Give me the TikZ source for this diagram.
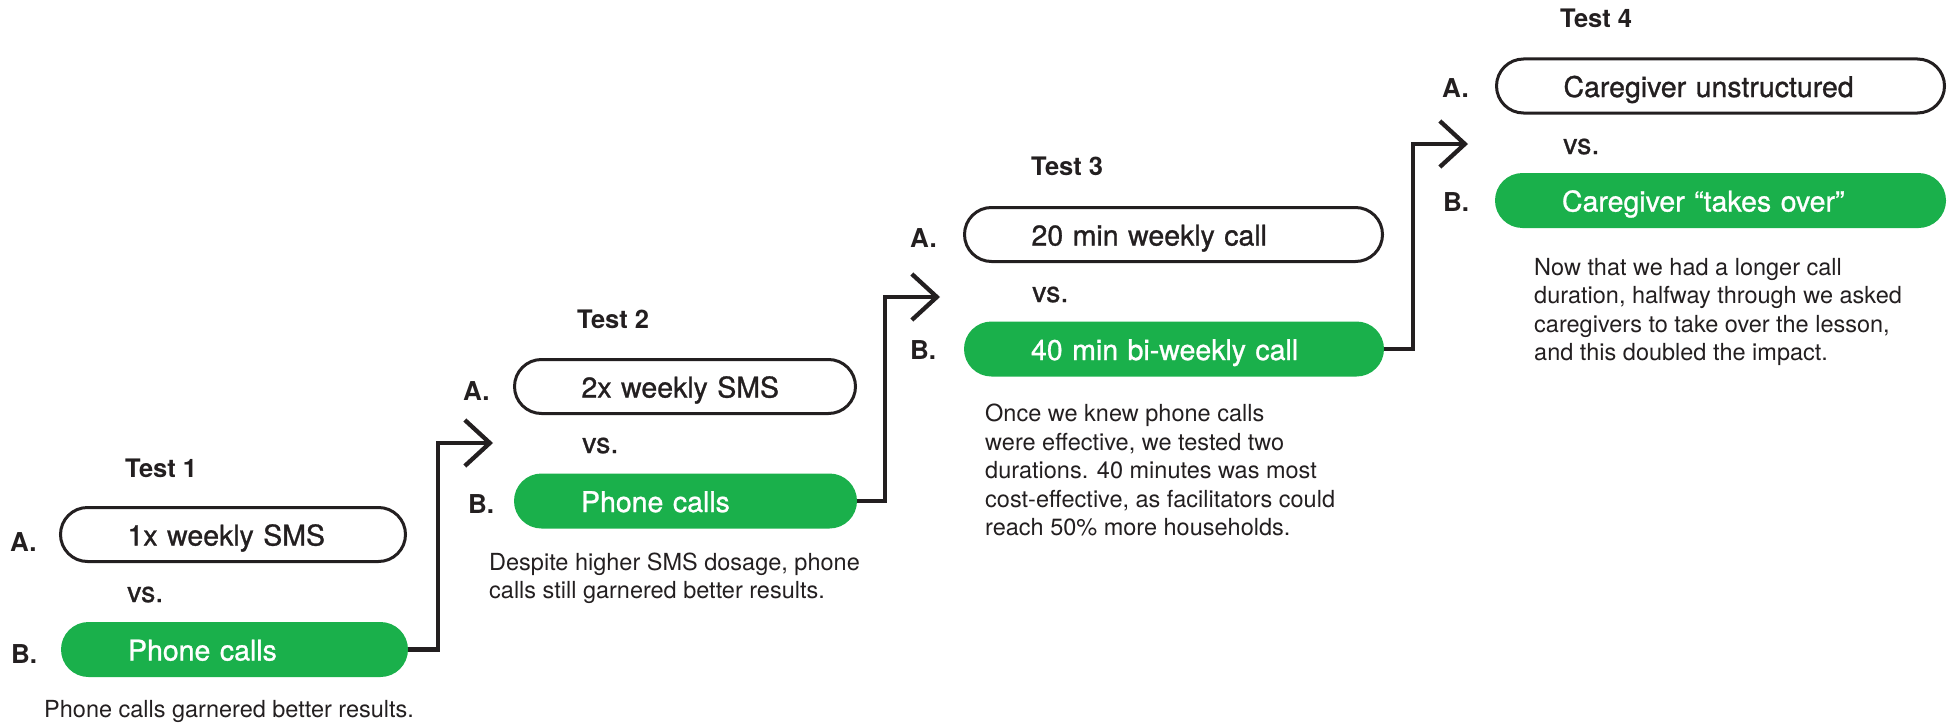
\documentclass[tikz,border=0pt]{standalone}
\usepackage{fontspec}
\setmainfont{TeX Gyre Heros}
\newfontfamily\medfam[FakeBold=1.0]{TeX Gyre Heros}
\usetikzlibrary{arrows.meta}
\definecolor{ink}{HTML}{231F20}
\definecolor{grn}{HTML}{1AB04B}
\newcommand\bxfont{\medfam\fontsize{28.5}{30}\selectfont}
\newcommand\lbfont{\bfseries\fontsize{26}{28}\selectfont}
\newcommand\tstfont{\bfseries\fontsize{25.5}{28}\selectfont}
\newcommand\cpfont{\fontsize{23.5}{28.5}\selectfont}
\newcommand\cplines[1]{\begin{tabular}[t]{@{}l@{}}#1\end{tabular}}
\begin{document}
\begin{tikzpicture}[x=1pt,y=-1pt,
  every node/.style={inner sep=0pt, text=ink},
  boxA/.style={draw=ink, line width=3pt, fill=white, rounded corners=27pt,
    minimum height=54pt, inner xsep=67pt, text height=22pt, text depth=0pt,
    align=left, font=\bxfont},
  boxB/.style={fill=grn, rounded corners=27.5pt, minimum height=55pt,
    inner xsep=67pt, text height=22pt, text depth=0pt, align=left,
    font=\bxfont, text=white},
  lbl/.style={anchor=base west, font=\lbfont},
  tst/.style={anchor=base west, font=\tstfont},
  vsl/.style={anchor=base west, font=\bxfont},
  captxt/.style={anchor=base west, font=\cpfont},
  link/.style={draw=ink, line width=4.3pt, line join=miter, line cap=butt,
    -{Straight Barb[length=25pt,width=46pt]}}
]
\useasboundingbox (0,0) rectangle (1948,725);

% ---------- Test 1 ----------
\node[tst] (T1) at (125,477) {Test 1};
\node[boxA, text width=211pt] (A1) at (233,534.5) {1x weekly SMS};
\node[lbl] (LA1) at (10,551) {A.};
\node[vsl] (V1) at (127,602) {vs.};
\node[boxB, text width=213pt] (B1) at (234.5,649.5) {Phone calls};
\node[lbl] (LB1) at (11,663) {B.};
\node[captxt] (C1) at (44,717) {Phone calls garnered better results.};

% ---------- Test 2 ----------
\node[tst] (T2) at (577,328) {Test 2};
\node[boxA, text width=207pt] (A2) at (685,386.5) {2x weekly SMS};
\node[lbl] (LA2) at (463,400) {A.};
\node[vsl] (V2) at (582,453) {vs.};
\node[boxB, text width=209pt] (B2) at (685.5,501) {Phone calls};
\node[lbl] (LB2) at (468,513) {B.};
\node[captxt] (C2) at (489,570) {\cplines{Despite higher SMS dosage, phone\\calls still garnered better results.}};

% ---------- Test 3 ----------
\node[tst] (T3) at (1031,175) {Test 3};
\node[boxA, text width=284pt] (A3) at (1173.5,234.5) {20 min weekly call};
\node[lbl] (LA3) at (910,247) {A.};
\node[vsl] (V3) at (1032,302) {vs.};
\node[boxB, text width=286pt] (B3) at (1174,349) {40 min bi-weekly call};
\node[lbl] (LB3) at (910,359) {B.};
\node[captxt] (C3) at (985,421.7) {\cplines{Once we knew phone calls\\were effective, we tested two\\durations. 40 minutes was most\\cost-effective, as facilitators could\\reach 50\% more households.}};

% ---------- Test 4 ----------
\node[tst] (T4) at (1560,28) {Test 4};
\node[boxA, text width=314pt] (A4) at (1720.5,86) {Caregiver unstructured};
\node[lbl] (LA4) at (1442,97) {A.};
\node[vsl] (V4) at (1563,154) {vs.};
\node[boxB, text width=317pt] (B4) at (1720.5,200.5) {Caregiver “takes over”};
\node[lbl] (LB4) at (1443,211) {B.};
\node[captxt] (C4) at (1534,275) {\cplines{Now that we had a longer call\\duration, halfway through we asked\\caregivers to take over the lesson,\\and this doubled the impact.}};

% ---------- connectors ----------
\coordinate (t1) at (493,443);
\coordinate (t2) at (940,297);
\coordinate (t3) at (1468,144);
\draw[link] (B1.east) -- ++(29.5,0) |- (t1);
\draw[link] (B2.east) -- ++(27.5,0) |- (t2);
\draw[link] (B3.east) -- ++(28.5,0) |- (t3);
\end{tikzpicture}
\end{document}
